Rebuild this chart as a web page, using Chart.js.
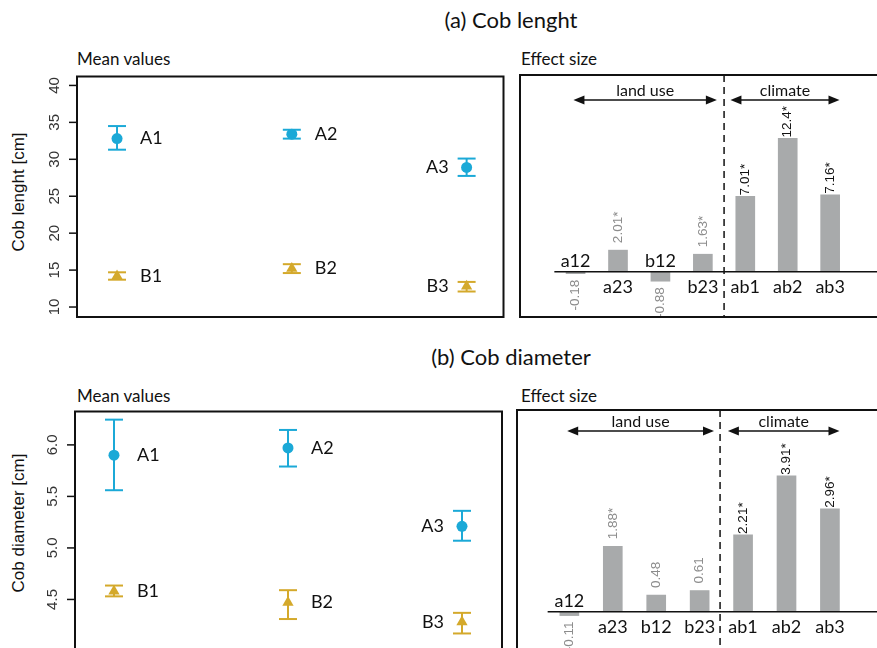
<!DOCTYPE html>
<html>
<head>
<meta charset="utf-8">
<script src="https://cdn.jsdelivr.net/npm/chart.js@4.4.0/dist/chart.umd.min.js"></script>
<style>
  body { margin: 0; width: 877px; height: 648px; overflow: hidden; background: #fff; position: relative; font-family: Lato, sans-serif; color: #111; }
  .pane { position: absolute; }
  .txt { position: absolute; white-space: nowrap; }
  .ytitle { position: absolute; width: 220px; line-height: 20px; text-align: center; font: 17px "Liberation Sans", sans-serif; transform: rotate(-90deg); }
</style>
</head>
<body>
<div class="txt" style="left:0;width:1022px;text-align:center;top:7px;font-size:22px;line-height:26px">(a) Cob lenght</div>
<div class="txt" style="left:0;width:1022px;text-align:center;top:344px;font-size:22px;line-height:26px">(b) Cob diameter</div>
<div class="txt" style="left:77px;top:49px;font-size:17px;line-height:20px">Mean values</div>
<div class="txt" style="left:521px;top:49px;font-size:17px;line-height:20px">Effect size</div>
<div class="txt" style="left:77px;top:386px;font-size:17px;line-height:20px">Mean values</div>
<div class="txt" style="left:521px;top:386px;font-size:17px;line-height:20px">Effect size</div>
<div class="ytitle" style="left:-91px;top:182px">Cob lenght [cm]</div>
<div class="ytitle" style="left:-91px;top:513px">Cob diameter [cm]</div>

<div class="pane" style="left:0;top:70px"><canvas id="lenMean" width="510" height="255"></canvas></div>
<div class="pane" style="left:510px;top:70px"><canvas id="lenEffect" width="370" height="255"></canvas></div>
<div class="pane" style="left:0;top:405px"><canvas id="diaMean" width="510" height="260"></canvas></div>
<div class="pane" style="left:510px;top:405px"><canvas id="diaEffect" width="370" height="260"></canvas></div>

<script>
// mean values (with error bar ends), sites 1..3
const sites = [1, 2, 3];
const siteNames = ['1', '2', '3'];
const labelSide = ['right', 'right', 'left'];

const lenA   = [32.8, 33.4, 28.9];
const lenAlo = [31.3, 32.8, 27.75];
const lenAhi = [34.5, 34.0, 30.1];
const lenB   = [14.2, 15.2, 12.8];
const lenBlo = [13.7, 14.6, 12.1];
const lenBhi = [14.7, 15.8, 13.4];
const lenTicks = [10, 15, 20, 25, 30, 35, 40];

const diaA   = [5.90, 5.97, 5.21];
const diaAlo = [5.56, 5.79, 5.07];
const diaAhi = [6.245, 6.145, 5.36];
const diaB   = [4.58, 4.47, 4.28];
const diaBlo = [4.53, 4.31, 4.17];
const diaBhi = [4.635, 4.59, 4.37];
const diaTicks = [4.5, 5.0, 5.5, 6.0];

// effect sizes
const effectCats = ['a12', 'a23', 'b12', 'b23', 'ab1', 'ab2', 'ab3'];
const lenEffect = [-0.18, 2.01, -0.88, 1.63, 7.01, 12.4, 7.16];
const lenEffectText = ['-0.18', '2.01*', '-0.88', '1.63*', '7.01*', '12.4*', '7.16*'];
const diaEffect = [-0.11, 1.88, 0.48, 0.61, 2.21, 3.91, 2.96];
const diaEffectText = ['-0.11', '1.88*', '0.48', '0.61', '2.21*', '3.91*', '2.96*'];

const cyan = '#1ba9d7';
const gold = '#d4a92b';
const barGray = '#a8aaab';

function line(ctx, x1, y1, x2, y2) {
  ctx.beginPath(); ctx.moveTo(x1, y1); ctx.lineTo(x2, y2); ctx.stroke();
}

const frame = {
  id: 'frame',
  afterDraw(chart) {
    const a = chart.chartArea, ctx = chart.ctx;
    ctx.save();
    ctx.strokeStyle = '#111';
    ctx.lineWidth = 2;
    ctx.strokeRect(a.left, a.top, a.right - a.left, a.bottom - a.top);
    ctx.restore();
  }
};

const meanDecor = {
  id: 'meanDecor',
  beforeDatasetsDraw(chart) {
    const ctx = chart.ctx, xs = chart.scales.x, ys = chart.scales.y;
    ctx.save();
    ctx.lineWidth = 2;
    chart.data.datasets.forEach(ds => {
      ctx.strokeStyle = ds.borderColor;
      ds.data.forEach(p => {
        const px = xs.getPixelForValue(p.x);
        const t = ys.getPixelForValue(p.hi), b = ys.getPixelForValue(p.lo);
        line(ctx, px, t, px, b);
        line(ctx, px - 9, t, px + 9, t);
        line(ctx, px - 9, b, px + 9, b);
      });
    });
    ctx.restore();
  },
  afterDraw(chart, args, opts) {
    const ctx = chart.ctx, xs = chart.scales.x, ys = chart.scales.y, a = chart.chartArea;
    ctx.save();
    // point labels
    ctx.fillStyle = '#111';
    ctx.font = '18px Lato, sans-serif';
    ctx.textBaseline = 'middle';
    chart.data.datasets.forEach(ds => {
      ds.data.forEach((p, i) => {
        const px = xs.getPixelForValue(p.x), py = ys.getPixelForValue(p.y);
        if (labelSide[i] === 'right') { ctx.textAlign = 'left'; ctx.fillText(ds.label + siteNames[i], px + 23, py); }
        else { ctx.textAlign = 'right'; ctx.fillText(ds.label + siteNames[i], px - 18, py); }
      });
    });
    // y axis ticks, R style
    ctx.strokeStyle = '#111';
    ctx.lineWidth = 1.5;
    ctx.font = '15px "Liberation Sans", sans-serif';
    ctx.fillStyle = '#333';
    opts.ticks.forEach(v => {
      const py = ys.getPixelForValue(v);
      if (py < a.top - 1 || py > a.bottom + 1) return;
      line(ctx, a.left - 8, py, a.left, py);
      ctx.save();
      ctx.translate(a.left - 22, py);
      ctx.rotate(-Math.PI / 2);
      ctx.textAlign = 'center';
      ctx.textBaseline = 'middle';
      ctx.fillText(opts.fmt(v), 0, 0);
      ctx.restore();
    });
    ctx.restore();
  }
};

function meanChart(id, A, Alo, Ahi, B, Blo, Bhi, xr, yr, pad, ticks, fmt) {
  const pts = (m, lo, hi) => sites.map((s, i) => ({ x: s, y: m[i], lo: lo[i], hi: hi[i] }));
  return new Chart(document.getElementById(id), {
    type: 'scatter',
    data: {
      datasets: [
        { label: 'A', data: pts(A, Alo, Ahi), borderColor: cyan, backgroundColor: cyan, pointStyle: 'circle', pointRadius: 5.5, pointBorderWidth: 0 },
        { label: 'B', data: pts(B, Blo, Bhi), borderColor: gold, backgroundColor: gold, pointStyle: 'triangle', pointRadius: 6.5, pointBorderWidth: 0 }
      ]
    },
    options: {
      responsive: false,
      animation: false,
      layout: { padding: pad },
      plugins: { legend: { display: false }, tooltip: { enabled: false }, meanDecor: { ticks: ticks, fmt: fmt } },
      scales: {
        x: { type: 'linear', min: xr[0], max: xr[1], display: false },
        y: { type: 'linear', min: yr[0], max: yr[1], display: false }
      }
    },
    plugins: [meanDecor, frame]
  });
}

const effectDecor = {
  id: 'effectDecor',
  afterDatasetsDraw(chart, args, opts) {
    const ctx = chart.ctx, xs = chart.scales.x, ys = chart.scales.y, a = chart.chartArea;
    const y0 = ys.getPixelForValue(0);
    ctx.save();
    // zero line
    ctx.strokeStyle = '#111';
    ctx.lineWidth = 1.5;
    line(ctx, xs.getPixelForValue(0.5), y0, a.right, y0);
    // divider
    ctx.setLineDash([7, 5]);
    const dx = xs.getPixelForValue(opts.divider);
    line(ctx, dx, a.top, dx, a.bottom);
    ctx.setLineDash([]);
    // group arrows
    const ay = a.top + opts.arrowY;
    [[0.95, 4.33, 'land use'], [4.65, 7.22, 'climate']].forEach(g => {
      const x1 = xs.getPixelForValue(g[0]), x2 = xs.getPixelForValue(g[1]);
      ctx.lineWidth = 1.5;
      line(ctx, x1 + 4, ay, x2 - 4, ay);
      ctx.fillStyle = '#111';
      ctx.beginPath(); ctx.moveTo(x1, ay); ctx.lineTo(x1 + 11, ay - 4.5); ctx.lineTo(x1 + 11, ay + 4.5); ctx.closePath(); ctx.fill();
      ctx.beginPath(); ctx.moveTo(x2, ay); ctx.lineTo(x2 - 11, ay - 4.5); ctx.lineTo(x2 - 11, ay + 4.5); ctx.closePath(); ctx.fill();
      ctx.font = '16px Lato, sans-serif';
      ctx.textAlign = 'center';
      ctx.textBaseline = 'alphabetic';
      ctx.fillText(g[2], (x1 + x2) / 2, ay - 4);
    });
    // category labels and value labels
    const vals = chart.data.datasets[0].data;
    vals.forEach((p, i) => {
      const px = xs.getPixelForValue(p.x), py = ys.getPixelForValue(p.y);
      ctx.fillStyle = '#111';
      ctx.font = '18px Lato, sans-serif';
      ctx.textAlign = 'center';
      ctx.textBaseline = 'middle';
      ctx.fillText(effectCats[i], px, p.y < 0 ? y0 - 11 : y0 + 15);
      ctx.save();
      ctx.fillStyle = i < 4 ? '#8c8c8c' : '#111';
      ctx.font = '13.5px "Liberation Sans", sans-serif';
      const gap = i < 4 ? 7 : 1;
      if (p.y >= 0) { ctx.translate(px, py - gap); ctx.rotate(-Math.PI / 2); ctx.textAlign = 'left'; }
      else { ctx.translate(px, py + 6); ctx.rotate(-Math.PI / 2); ctx.textAlign = 'right'; }
      ctx.textBaseline = 'middle';
      ctx.fillText(opts.text[i], 0, 0);
      ctx.restore();
    });
    ctx.restore();
  }
};

function effectChart(id, vals, text, xr, yr, pad, arrowY, divider) {
  return new Chart(document.getElementById(id), {
    type: 'bar',
    data: {
      datasets: [{ data: vals.map((v, i) => ({ x: i + 1, y: v })), backgroundColor: barGray, barThickness: 19 }]
    },
    options: {
      responsive: false,
      animation: false,
      layout: { padding: pad },
      plugins: { legend: { display: false }, tooltip: { enabled: false }, effectDecor: { text: text, arrowY: arrowY, divider: divider } },
      scales: {
        x: { type: 'linear', min: xr[0], max: xr[1], display: false },
        y: { type: 'linear', min: yr[0], max: yr[1], display: false }
      }
    },
    plugins: [effectDecor, frame]
  });
}

meanChart('lenMean', lenA, lenAlo, lenAhi, lenB, lenBlo, lenBhi,
  [0.771, 3.211], [8.65, 41.21], { left: 77, right: 6, top: 5, bottom: 8 }, lenTicks, v => String(v));
effectChart('lenEffect', lenEffect, lenEffectText,
  [0.293, 7.525], [-4.21, 18.3], { left: 10, right: 2, top: 5, bottom: 8 }, 25, 4.5);
meanChart('diaMean', diaA, diaAlo, diaAhi, diaB, diaBlo, diaBhi,
  [0.776, 3.23], [3.927, 6.324], { left: 75, right: 8, top: 6, bottom: 0 }, diaTicks, v => v.toFixed(1));
effectChart('diaEffect', diaEffect, diaEffectText,
  [0.388, 7.513], [-1.53, 5.80], { left: 7, right: 2, top: 5, bottom: 0 }, 21, 4.47);
</script>
</body>
</html>
